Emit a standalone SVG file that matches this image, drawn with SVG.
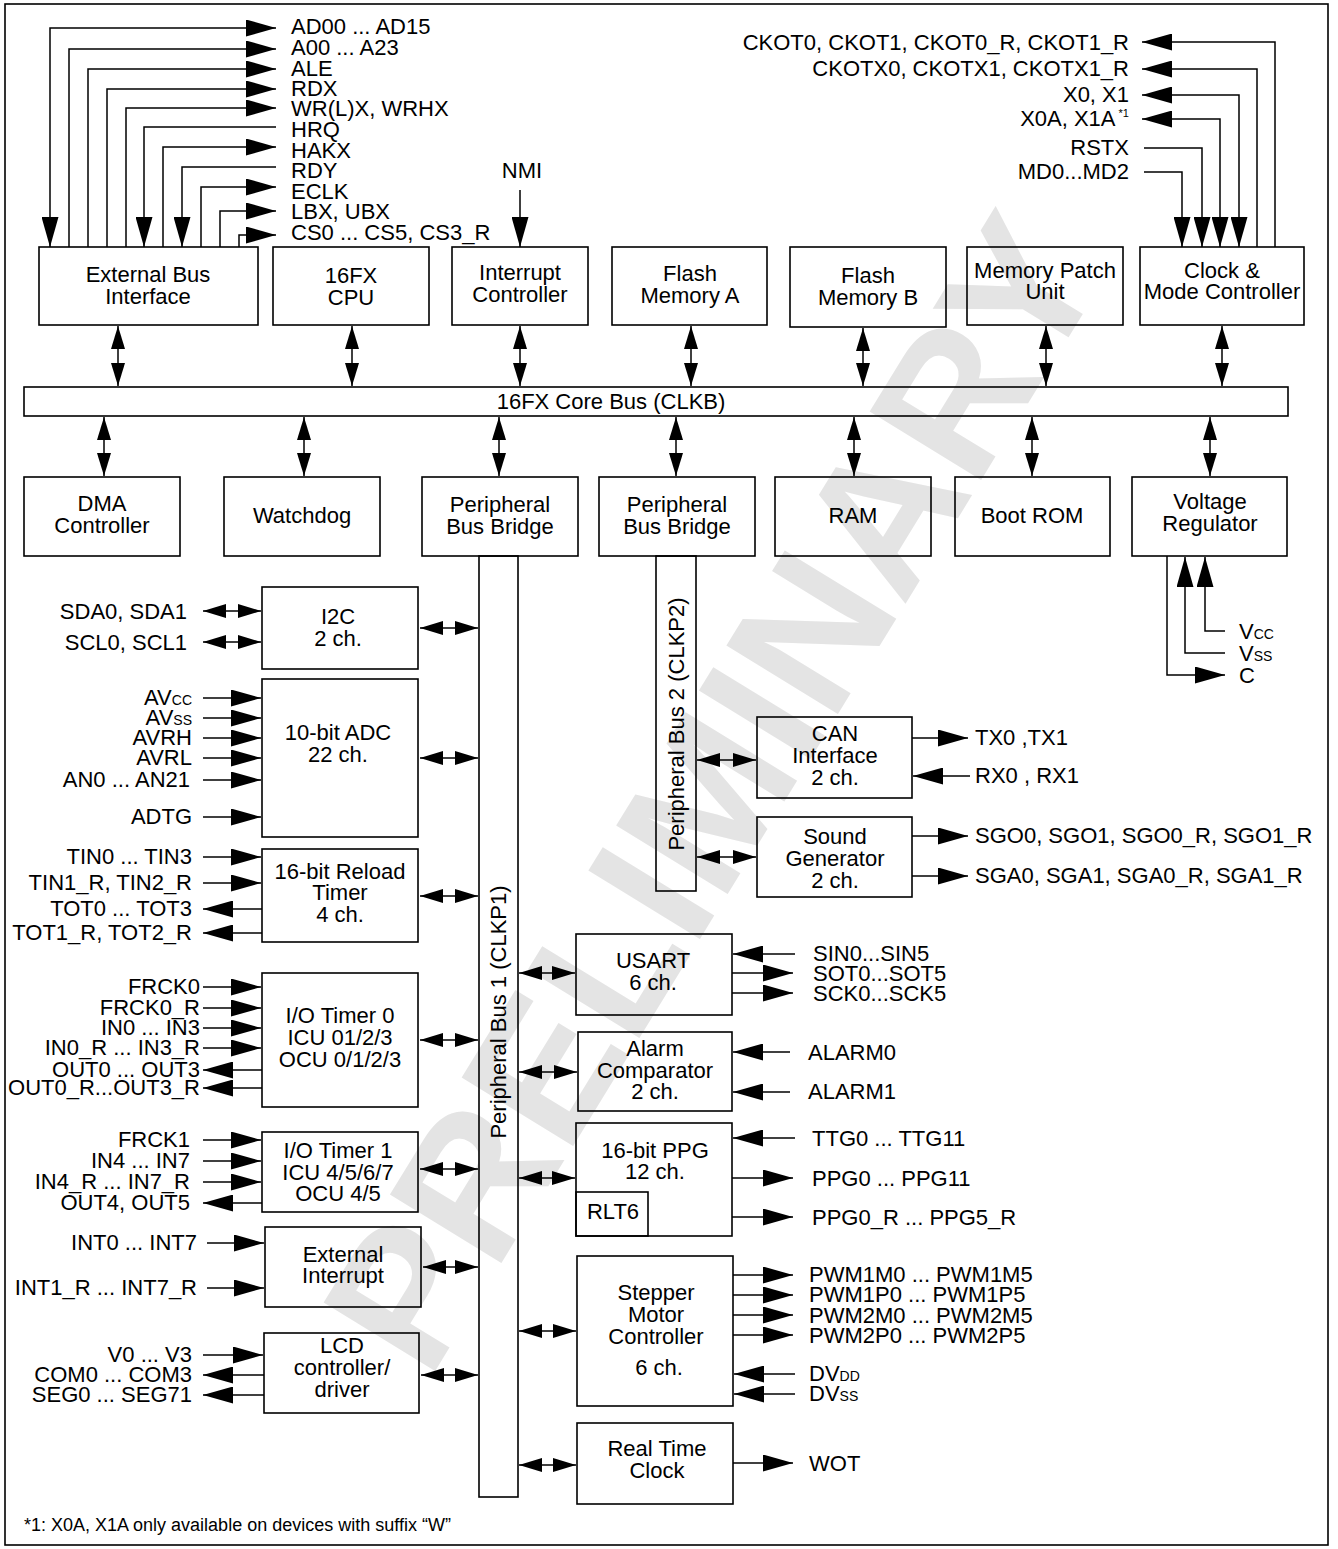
<svg xmlns="http://www.w3.org/2000/svg" width="1338" height="1549" viewBox="0 0 1338 1549">
<style>
.bx{fill:none;stroke:#000;stroke-width:1.6}
.t{font-family:"Liberation Sans",Arial,Helvetica,sans-serif;font-size:22px;fill:#000}
.c{text-anchor:middle}
.e{text-anchor:end}
.ln{fill:none;stroke:#000;stroke-width:1.5}
.s{font-size:14px}
.wm{font-family:"Liberation Sans",Arial,sans-serif;font-size:190px;font-weight:bold;fill:#e4e4e4;text-anchor:middle}
</style>
<defs>
<marker id="ah" viewBox="0 0 30 17" refX="30" refY="8.5" markerWidth="30" markerHeight="17" markerUnits="userSpaceOnUse" orient="auto-start-reverse"><path d="M0,0 L30,8.5 L0,17 z" fill="#000"/></marker>
<marker id="sh" viewBox="0 0 23 14" refX="23" refY="7" markerWidth="23" markerHeight="14" markerUnits="userSpaceOnUse" orient="auto-start-reverse"><path d="M0,0 L23,7 L0,14 z" fill="#000"/></marker>
</defs>
<rect x="0" y="0" width="1338" height="1549" fill="#fff"/>
<text class="wm" transform="translate(712,792) rotate(-58.5)" dy="0.35em">PRELIMINARY</text>
<rect x="5" y="4" width="1323" height="1541" class="bx"/>

<g id="ext-bus-interface"><rect x="39" y="247" width="219" height="78" class="bx"/><text class="t c" x="148" y="282">External Bus</text><text class="t c" x="148" y="304">Interface</text></g>
<g id="cpu"><rect x="273" y="247" width="156" height="78" class="bx"/><text class="t c" x="351" y="283">16FX</text><text class="t c" x="351" y="305">CPU</text></g>
<g id="interrupt-controller"><rect x="452" y="247" width="136" height="78" class="bx"/><text class="t c" x="520" y="280">Interrupt</text><text class="t c" x="520" y="302">Controller</text></g>
<g id="flash-a"><rect x="612" y="247" width="155" height="78" class="bx"/><text class="t c" x="690" y="281">Flash</text><text class="t c" x="690" y="303">Memory A</text></g>
<g id="flash-b"><rect x="790" y="247" width="156" height="80" class="bx"/><text class="t c" x="868" y="283">Flash</text><text class="t c" x="868" y="305">Memory B</text></g>
<g id="memory-patch"><rect x="967" y="247" width="156" height="78" class="bx"/><text class="t c" x="1045" y="278">Memory Patch</text><text class="t c" x="1045" y="299">Unit</text></g>
<g id="clock-mode"><rect x="1140" y="247" width="164" height="78" class="bx"/><text class="t c" x="1222" y="278">Clock &amp;</text><text class="t c" x="1222" y="299">Mode Controller</text></g>

<g id="core-bus"><rect x="24" y="387" width="1264" height="29" class="bx"/><text class="t c" x="611" y="409">16FX Core Bus (CLKB)</text></g>

<g id="dma"><rect x="24" y="477" width="156" height="79" class="bx"/><text class="t c" x="102" y="511">DMA</text><text class="t c" x="102" y="533">Controller</text></g>
<g id="watchdog"><rect x="224" y="477" width="156" height="79" class="bx"/><text class="t c" x="302" y="523">Watchdog</text></g>
<g id="pbb1"><rect x="422" y="477" width="156" height="79" class="bx"/><text class="t c" x="500" y="512">Peripheral</text><text class="t c" x="500" y="534">Bus Bridge</text></g>
<g id="pbb2"><rect x="599" y="477" width="156" height="79" class="bx"/><text class="t c" x="677" y="512">Peripheral</text><text class="t c" x="677" y="534">Bus Bridge</text></g>
<g id="ram"><rect x="775" y="477" width="156" height="79" class="bx"/><text class="t c" x="853" y="523">RAM</text></g>
<g id="boot-rom"><rect x="955" y="477" width="155" height="79" class="bx"/><text class="t c" x="1032" y="523">Boot ROM</text></g>
<g id="voltage-regulator"><rect x="1132" y="477" width="155" height="79" class="bx"/><text class="t c" x="1210" y="509">Voltage</text><text class="t c" x="1210" y="531">Regulator</text></g>

<g id="peripheral-bus-1"><rect x="479" y="556" width="39" height="941" class="bx"/><text class="t c" transform="translate(506,1012) rotate(-90)">Peripheral Bus 1 (CLKP1)</text></g>
<g id="peripheral-bus-2"><rect x="656" y="556" width="40" height="335" class="bx"/><text class="t c" transform="translate(684,724) rotate(-90)">Peripheral Bus 2 (CLKP2)</text></g>

<g id="i2c"><rect x="262" y="587" width="156" height="82" class="bx"/><text class="t c" x="338" y="624">I2C</text><text class="t c" x="338" y="646">2 ch.</text></g>
<g id="adc"><rect x="262" y="679" width="156" height="158" class="bx"/><text class="t c" x="338" y="740">10-bit ADC</text><text class="t c" x="338" y="762">22 ch.</text></g>
<g id="reload-timer"><rect x="262" y="849" width="156" height="93" class="bx"/><text class="t c" x="340" y="879">16-bit Reload</text><text class="t c" x="340" y="900">Timer</text><text class="t c" x="340" y="922">4 ch.</text></g>
<g id="io-timer-0"><rect x="262" y="973" width="156" height="134" class="bx"/><text class="t c" x="340" y="1023">I/O Timer 0</text><text class="t c" x="340" y="1045">ICU 01/2/3</text><text class="t c" x="340" y="1067">OCU 0/1/2/3</text></g>
<g id="io-timer-1"><rect x="262" y="1132" width="156" height="80" class="bx"/><text class="t c" x="338" y="1158">I/O Timer 1</text><text class="t c" x="338" y="1180">ICU 4/5/6/7</text><text class="t c" x="338" y="1201">OCU 4/5</text></g>
<g id="external-interrupt"><rect x="265" y="1227" width="156" height="80" class="bx"/><text class="t c" x="343" y="1262">External</text><text class="t c" x="343" y="1283">Interrupt</text></g>
<g id="lcd"><rect x="264" y="1333" width="155" height="80" class="bx"/><text class="t c" x="342" y="1353">LCD</text><text class="t c" x="342" y="1375">controller/</text><text class="t c" x="342" y="1397">driver</text></g>

<g id="can"><rect x="757" y="717" width="155" height="81" class="bx"/><text class="t c" x="835" y="741">CAN</text><text class="t c" x="835" y="763">Interface</text><text class="t c" x="835" y="785">2 ch.</text></g>
<g id="sound"><rect x="757" y="817" width="155" height="80" class="bx"/><text class="t c" x="835" y="844">Sound</text><text class="t c" x="835" y="866">Generator</text><text class="t c" x="835" y="888">2 ch.</text></g>
<g id="usart"><rect x="576" y="934" width="156" height="81" class="bx"/><text class="t c" x="653" y="968">USART</text><text class="t c" x="653" y="990">6 ch.</text></g>
<g id="alarm"><rect x="578" y="1032" width="154" height="79" class="bx"/><text class="t c" x="655" y="1056">Alarm</text><text class="t c" x="655" y="1078">Comparator</text><text class="t c" x="655" y="1099">2 ch.</text></g>
<g id="ppg"><rect x="576" y="1123" width="156" height="113" class="bx"/><text class="t c" x="655" y="1158">16-bit PPG</text><text class="t c" x="655" y="1179">12 ch.</text><rect x="576" y="1192" width="72" height="44" class="bx"/><text class="t c" x="613" y="1219">RLT6</text></g>
<g id="stepper"><rect x="577" y="1256" width="156" height="150" class="bx"/><text class="t c" x="656" y="1300">Stepper</text><text class="t c" x="656" y="1322">Motor</text><text class="t c" x="656" y="1344">Controller</text><text class="t c" x="659" y="1375">6 ch.</text></g>
<g id="rtc"><rect x="577" y="1423" width="156" height="81" class="bx"/><text class="t c" x="657" y="1456">Real Time</text><text class="t c" x="657" y="1478">Clock</text></g>

<g id="labels">
<text class="t" x="291" y="34">AD00 ... AD15</text>
<text class="t" x="291" y="55">A00 ... A23</text>
<text class="t" x="291" y="76">ALE</text>
<text class="t" x="291" y="96">RDX</text>
<text class="t" x="291" y="116">WR(L)X, WRHX</text>
<text class="t" x="291" y="137">HRQ</text>
<text class="t" x="291" y="158">HAKX</text>
<text class="t" x="291" y="178">RDY</text>
<text class="t" x="291" y="199">ECLK</text>
<text class="t" x="291" y="219">LBX, UBX</text>
<text class="t" x="291" y="240">CS0 ... CS5, CS3_R</text>
<text class="t c" x="522" y="178">NMI</text>
<text class="t e" x="1129" y="50">CKOT0, CKOT1, CKOT0_R, CKOT1_R</text>
<text class="t e" x="1129" y="76">CKOTX0, CKOTX1, CKOTX1_R</text>
<text class="t e" x="1129" y="102">X0, X1</text>
<text class="t e" x="1129" y="126">X0A, X1A<tspan font-size="11" dy="-9"> *1</tspan></text>
<text class="t e" x="1129" y="155">RSTX</text>
<text class="t e" x="1129" y="179">MD0...MD2</text>
<text class="t" x="1239" y="639">V<tspan class="s">CC</tspan></text>
<text class="t" x="1239" y="661">V<tspan class="s">SS</tspan></text>
<text class="t" x="1239" y="683">C</text>
<text class="t e" x="187" y="619">SDA0, SDA1</text>
<text class="t e" x="187" y="650">SCL0, SCL1</text>
<text class="t e" x="192" y="705">AV<tspan class="s">CC</tspan></text>
<text class="t e" x="192" y="725">AV<tspan class="s">SS</tspan></text>
<text class="t e" x="192" y="745">AVRH</text>
<text class="t e" x="192" y="765">AVRL</text>
<text class="t e" x="190" y="787">AN0 ... AN21</text>
<text class="t e" x="192" y="824">ADTG</text>
<text class="t e" x="192" y="864">TIN0 ... TIN3</text>
<text class="t e" x="192" y="890">TIN1_R, TIN2_R</text>
<text class="t e" x="192" y="916">TOT0 ... TOT3</text>
<text class="t e" x="192" y="940">TOT1_R, TOT2_R</text>
<text class="t e" x="200" y="994">FRCK0</text>
<text class="t e" x="200" y="1015">FRCK0_R</text>
<text class="t e" x="200" y="1035">IN0 ... IN3</text>
<text class="t e" x="200" y="1055">IN0_R ... IN3_R</text>
<text class="t e" x="200" y="1077">OUT0 ... OUT3</text>
<text class="t e" x="200" y="1095">OUT0_R...OUT3_R</text>
<text class="t e" x="190" y="1147">FRCK1</text>
<text class="t e" x="190" y="1168">IN4 ... IN7</text>
<text class="t e" x="190" y="1189">IN4_R ... IN7_R</text>
<text class="t e" x="190" y="1210">OUT4, OUT5</text>
<text class="t e" x="197" y="1250">INT0 ... INT7</text>
<text class="t e" x="197" y="1295">INT1_R ... INT7_R</text>
<text class="t e" x="192" y="1362">V0 ... V3</text>
<text class="t e" x="192" y="1382">COM0 ... COM3</text>
<text class="t e" x="192" y="1402">SEG0 ... SEG71</text>
<text class="t" x="975" y="745">TX0 ,TX1</text>
<text class="t" x="975" y="783">RX0 , RX1</text>
<text class="t" x="975" y="843">SGO0, SGO1, SGO0_R, SGO1_R</text>
<text class="t" x="975" y="883">SGA0, SGA1, SGA0_R, SGA1_R</text>
<text class="t" x="813" y="961">SIN0...SIN5</text>
<text class="t" x="813" y="981">SOT0...SOT5</text>
<text class="t" x="813" y="1001">SCK0...SCK5</text>
<text class="t" x="808" y="1060">ALARM0</text>
<text class="t" x="808" y="1099">ALARM1</text>
<text class="t" x="812" y="1146">TTG0 ... TTG11</text>
<text class="t" x="812" y="1186">PPG0 ... PPG11</text>
<text class="t" x="812" y="1225">PPG0_R ... PPG5_R</text>
<text class="t" x="809" y="1282">PWM1M0 ... PWM1M5</text>
<text class="t" x="809" y="1302">PWM1P0 ... PWM1P5</text>
<text class="t" x="809" y="1323">PWM2M0 ... PWM2M5</text>
<text class="t" x="809" y="1343">PWM2P0 ... PWM2P5</text>
<text class="t" x="809" y="1381">DV<tspan class="s">DD</tspan></text>
<text class="t" x="809" y="1401">DV<tspan class="s">SS</tspan></text>
<text class="t" x="809" y="1471">WOT</text>
<text class="t" x="24" y="1531" style="font-size:18px">*1: X0A, X1A only available on devices with suffix “W”</text>
</g>

<g id="connectors" class="ln">
<path d="M50,247 V28 H276" marker-start="url(#ah)" marker-end="url(#ah)"/>
<path d="M69,247 V49 H276" marker-end="url(#ah)"/>
<path d="M88,247 V69 H276" marker-end="url(#ah)"/>
<path d="M107,247 V89 H276" marker-end="url(#ah)"/>
<path d="M126,247 V108 H276" marker-end="url(#ah)"/>
<path d="M276,127 H144 V247" marker-end="url(#ah)"/>
<path d="M163,247 V147 H276" marker-end="url(#ah)"/>
<path d="M276,167 H182 V247" marker-end="url(#ah)"/>
<path d="M201,247 V187 H276" marker-end="url(#ah)"/>
<path d="M220,247 V211 H276" marker-end="url(#ah)"/>
<path d="M239,247 V235 H276" marker-end="url(#ah)"/>
<path d="M520,190 V247" marker-end="url(#ah)"/>
<path d="M1275,247 V42 H1142" marker-end="url(#ah)"/>
<path d="M1257,247 V69 H1142" marker-end="url(#ah)"/>
<path d="M1239,247 V95 H1142" marker-start="url(#ah)" marker-end="url(#ah)"/>
<path d="M1220,247 V119 H1142" marker-start="url(#ah)" marker-end="url(#ah)"/>
<path d="M1144,148 H1202 V247" marker-end="url(#ah)"/>
<path d="M1144,172 H1182 V247" marker-end="url(#ah)"/>
<path d="M118,326 V386" marker-start="url(#sh)" marker-end="url(#sh)"/>
<path d="M352,326 V386" marker-start="url(#sh)" marker-end="url(#sh)"/>
<path d="M520,326 V386" marker-start="url(#sh)" marker-end="url(#sh)"/>
<path d="M691,326 V386" marker-start="url(#sh)" marker-end="url(#sh)"/>
<path d="M863,328 V386" marker-start="url(#sh)" marker-end="url(#sh)"/>
<path d="M1046,326 V386" marker-start="url(#sh)" marker-end="url(#sh)"/>
<path d="M1222,326 V386" marker-start="url(#sh)" marker-end="url(#sh)"/>
<path d="M104,417 V476" marker-start="url(#sh)" marker-end="url(#sh)"/>
<path d="M304,417 V476" marker-start="url(#sh)" marker-end="url(#sh)"/>
<path d="M499,417 V476" marker-start="url(#sh)" marker-end="url(#sh)"/>
<path d="M676,417 V476" marker-start="url(#sh)" marker-end="url(#sh)"/>
<path d="M854,417 V476" marker-start="url(#sh)" marker-end="url(#sh)"/>
<path d="M1032,417 V476" marker-start="url(#sh)" marker-end="url(#sh)"/>
<path d="M1210,417 V476" marker-start="url(#sh)" marker-end="url(#sh)"/>
<path d="M1167,556 V675 H1225" marker-end="url(#ah)"/>
<path d="M1225,653 H1185 V557" marker-end="url(#ah)"/>
<path d="M1225,631 H1205 V557" marker-end="url(#ah)"/>
<path d="M420,628 H478" marker-start="url(#sh)" marker-end="url(#sh)"/>
<path d="M420,758 H478" marker-start="url(#sh)" marker-end="url(#sh)"/>
<path d="M420,896 H478" marker-start="url(#sh)" marker-end="url(#sh)"/>
<path d="M420,1040 H478" marker-start="url(#sh)" marker-end="url(#sh)"/>
<path d="M420,1169 H478" marker-start="url(#sh)" marker-end="url(#sh)"/>
<path d="M423,1267 H478" marker-start="url(#sh)" marker-end="url(#sh)"/>
<path d="M421,1375 H478" marker-start="url(#sh)" marker-end="url(#sh)"/>
<path d="M519,973 H575" marker-start="url(#sh)" marker-end="url(#sh)"/>
<path d="M519,1072 H577" marker-start="url(#sh)" marker-end="url(#sh)"/>
<path d="M519,1178 H575" marker-start="url(#sh)" marker-end="url(#sh)"/>
<path d="M519,1331 H576" marker-start="url(#sh)" marker-end="url(#sh)"/>
<path d="M519,1465 H576" marker-start="url(#sh)" marker-end="url(#sh)"/>
<path d="M697,760 H756" marker-start="url(#sh)" marker-end="url(#sh)"/>
<path d="M697,857 H756" marker-start="url(#sh)" marker-end="url(#sh)"/>
<path d="M203,611 H261" marker-start="url(#sh)" marker-end="url(#sh)"/>
<path d="M203,642 H261" marker-start="url(#sh)" marker-end="url(#sh)"/>
<path d="M203,698 H261" marker-end="url(#ah)"/>
<path d="M203,718 H261" marker-end="url(#ah)"/>
<path d="M203,738 H261" marker-end="url(#ah)"/>
<path d="M203,758 H261" marker-end="url(#ah)"/>
<path d="M203,780 H261" marker-end="url(#ah)"/>
<path d="M203,817 H261" marker-end="url(#ah)"/>
<path d="M203,857 H261" marker-end="url(#ah)"/>
<path d="M203,883 H261" marker-end="url(#ah)"/>
<path d="M262,909 H203" marker-end="url(#ah)"/>
<path d="M262,933 H203" marker-end="url(#ah)"/>
<path d="M203,987 H261" marker-end="url(#ah)"/>
<path d="M203,1008 H261" marker-end="url(#ah)"/>
<path d="M203,1028 H261" marker-end="url(#ah)"/>
<path d="M203,1048 H261" marker-end="url(#ah)"/>
<path d="M262,1070 H203" marker-end="url(#ah)"/>
<path d="M262,1088 H203" marker-end="url(#ah)"/>
<path d="M203,1140 H261" marker-end="url(#ah)"/>
<path d="M203,1161 H261" marker-end="url(#ah)"/>
<path d="M203,1182 H261" marker-end="url(#ah)"/>
<path d="M262,1203 H203" marker-end="url(#ah)"/>
<path d="M207,1243 H264" marker-end="url(#ah)"/>
<path d="M207,1288 H264" marker-end="url(#ah)"/>
<path d="M203,1355 H263" marker-end="url(#ah)"/>
<path d="M264,1375 H203" marker-end="url(#ah)"/>
<path d="M264,1395 H203" marker-end="url(#ah)"/>
<path d="M912,738 H968" marker-end="url(#ah)"/>
<path d="M970,776 H913" marker-end="url(#ah)"/>
<path d="M912,836 H968" marker-end="url(#ah)"/>
<path d="M912,876 H968" marker-end="url(#ah)"/>
<path d="M795,954 H733" marker-end="url(#ah)"/>
<path d="M732,973 H793" marker-end="url(#ah)"/>
<path d="M732,993 H793" marker-end="url(#ah)"/>
<path d="M790,1052 H733" marker-end="url(#ah)"/>
<path d="M790,1092 H733" marker-end="url(#ah)"/>
<path d="M795,1138 H733" marker-end="url(#ah)"/>
<path d="M732,1178 H793" marker-end="url(#ah)"/>
<path d="M732,1217 H793" marker-end="url(#ah)"/>
<path d="M733,1275 H793" marker-end="url(#ah)"/>
<path d="M733,1295 H793" marker-end="url(#ah)"/>
<path d="M733,1315 H793" marker-end="url(#ah)"/>
<path d="M733,1335 H793" marker-end="url(#ah)"/>
<path d="M795,1374 H734" marker-end="url(#ah)"/>
<path d="M795,1394 H734" marker-end="url(#ah)"/>
<path d="M733,1463 H793" marker-end="url(#ah)"/>
</g>
</svg>
